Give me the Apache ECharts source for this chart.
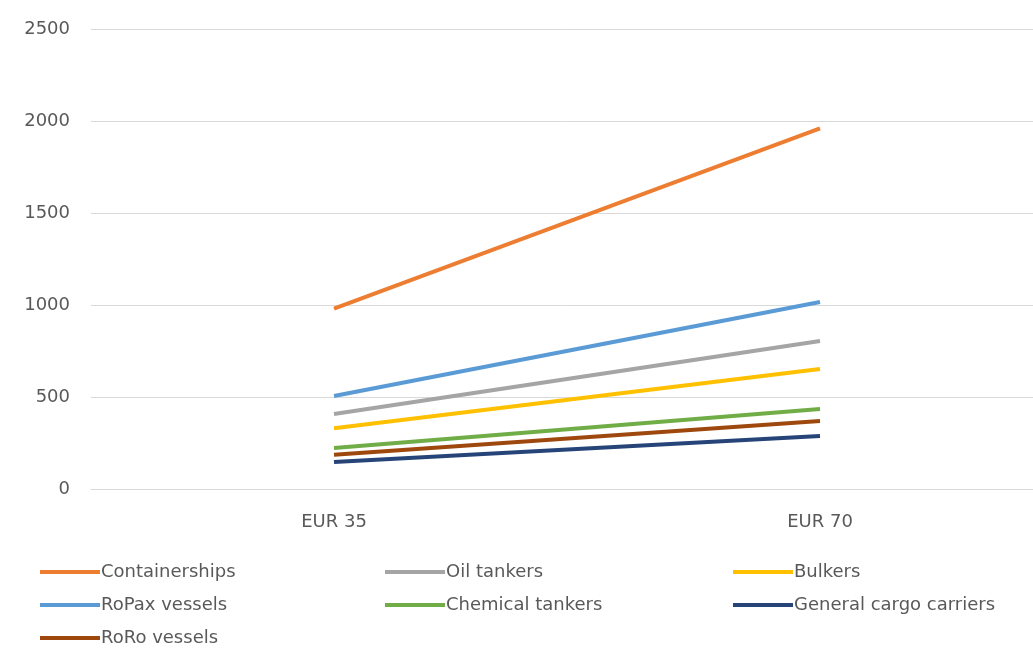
<!DOCTYPE html>
<html>
<head>
<meta charset="utf-8">
<script src="https://cdn.jsdelivr.net/npm/echarts@6/dist/echarts.min.js"></script>
<style>
  html, body { margin: 0; padding: 0; background: #ffffff; }
  #chart { width: 1033px; height: 648px; }
</style>
</head>
<body>
<div id="chart"></div>
<script>
// Carbon price scenarios on the x axis
const categories = ['EUR 35', 'EUR 70'];

// Cost per ship type at each carbon price
const containerships = [980, 1960];
const oilTankers = [408, 804];
const bulkers = [330, 652];
const roPaxVessels = [505, 1016];
const chemicalTankers = [223, 435];
const generalCargoCarriers = [147, 288];
const roRoVessels = [186, 370];

const yTicks = [0, 500, 1000, 1500, 2000, 2500];

const seriesDefs = [
  { name: 'Containerships', data: containerships, color: '#ED7D31' },
  { name: 'Oil tankers', data: oilTankers, color: '#A5A5A5' },
  { name: 'Bulkers', data: bulkers, color: '#FFC000' },
  { name: 'RoPax vessels', data: roPaxVessels, color: '#5B9BD5' },
  { name: 'Chemical tankers', data: chemicalTankers, color: '#70AD47' },
  { name: 'General cargo carriers', data: generalCargoCarriers, color: '#264478' },
  { name: 'RoRo vessels', data: roRoVessels, color: '#9E480E' }
];

const textColor = '#595959';
const fontFamily = '"DejaVu Sans", sans-serif';
const fontSize = 18;

function legendColumn(names, left) {
  return {
    orient: 'vertical',
    left: left,
    top: 563,
    icon: 'rect',
    itemWidth: 60,
    itemHeight: 4,
    itemGap: 15,
    padding: 0,
    data: names,
    textStyle: { color: textColor, fontSize: fontSize, fontFamily: fontFamily, padding: [0, 0, 0, -4] }
  };
}

const chart = echarts.init(document.getElementById('chart'));
chart.setOption({
  animation: false,
  backgroundColor: '#ffffff',
  grid: { left: 91, top: 29, width: 972, bottom: 159, containLabel: false, outerBoundsMode: 'none' },
  xAxis: {
    type: 'category',
    data: categories,
    boundaryGap: true,
    axisLine: { show: true, lineStyle: { color: '#d9d9d9', width: 1 } },
    axisTick: { show: false },
    axisLabel: { color: textColor, fontSize: fontSize, fontFamily: fontFamily, margin: 24 }
  },
  yAxis: {
    type: 'value',
    min: yTicks[0],
    max: yTicks[yTicks.length - 1],
    interval: yTicks[1] - yTicks[0],
    axisLine: { show: false },
    axisTick: { show: false },
    splitLine: { lineStyle: { color: '#d9d9d9', width: 1 } },
    axisLabel: {
      color: textColor, fontSize: fontSize, fontFamily: fontFamily, margin: 21,
      formatter: v => String(v)
    }
  },
  legend: [
    legendColumn(['Containerships', 'RoPax vessels', 'RoRo vessels'], 40),
    legendColumn(['Oil tankers', 'Chemical tankers'], 385),
    legendColumn(['Bulkers', 'General cargo carriers'], 733)
  ],
  series: seriesDefs.map(s => ({
    name: s.name,
    type: 'line',
    data: s.data,
    symbol: 'none',
    color: s.color,
    lineStyle: { color: s.color, width: 4 }
  }))
});
</script>
</body>
</html>
